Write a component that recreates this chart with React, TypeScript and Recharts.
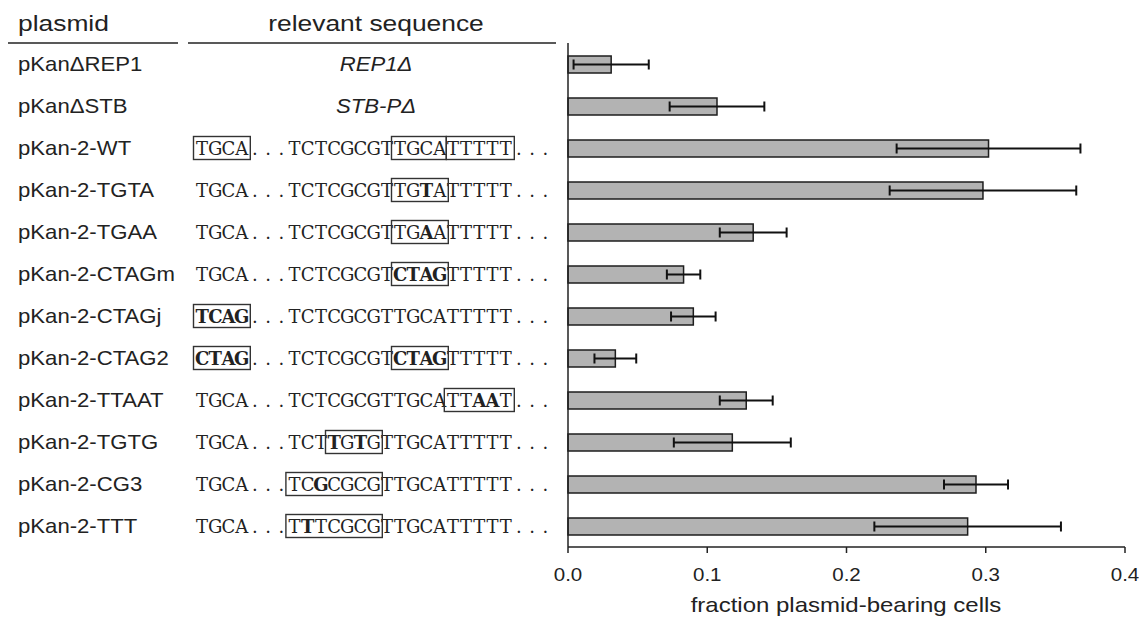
import React from 'react';
import { BarChart, Bar, XAxis, YAxis, ErrorBar } from 'recharts';

const plasmids = [
  'pKanΔREP1',
  'pKanΔSTB',
  'pKan-2-WT',
  'pKan-2-TGTA',
  'pKan-2-TGAA',
  'pKan-2-CTAGm',
  'pKan-2-CTAGj',
  'pKan-2-CTAG2',
  'pKan-2-TTAAT',
  'pKan-2-TGTG',
  'pKan-2-CG3',
  'pKan-2-TTT',
];

// [ ] = boxed, * * = bold
const sequences = [
  'REP1Δ',
  'STB-PΔ',
  '[TGCA]...TCTCGCGT[TGCA][TTTTT]...',
  'TGCA...TCTCGCGT[TG*T*A]TTTTT...',
  'TGCA...TCTCGCGT[TG*A*A]TTTTT...',
  'TGCA...TCTCGCGT[*CTAG*]TTTTT...',
  '[*TCAG*]...TCTCGCGTTGCATTTTT...',
  '[*CTAG*]...TCTCGCGT[*CTAG*]TTTTT...',
  'TGCA...TCTCGCGTTGCA[TT*AA*T]...',
  'TGCA...TCT[*T*G*T*G]TTGCATTTTT...',
  'TGCA...[TC*G*CGCG]TTGCATTTTT...',
  'TGCA...[T*T*TCGCG]TTGCATTTTT...',
];

const fractions = [0.031, 0.107, 0.302, 0.298, 0.133, 0.083, 0.09, 0.034, 0.128, 0.118, 0.293, 0.287];
const errors = [0.027, 0.034, 0.066, 0.067, 0.024, 0.012, 0.016, 0.015, 0.019, 0.042, 0.023, 0.067];
const xTicks = [0, 0.1, 0.2, 0.3, 0.4];

const data = plasmids.map((name, i) => ({
  name,
  seq: sequences[i],
  fraction: fractions[i],
  err: errors[i],
}));

const SANS = "'Liberation Sans', Arial, sans-serif";
const SERIF = "'DejaVu Serif', 'Liberation Serif', serif";
const SX = 1.2;
const SEQ_X = 195.5;
const CW = 13.2;

function parseSeq(s: string) {
  const chars: { c: string; bold: boolean }[] = [];
  const boxes: [number, number][] = [];
  let bold = false;
  let start = -1;
  for (const ch of s) {
    if (ch === '*') bold = !bold;
    else if (ch === '[') start = chars.length;
    else if (ch === ']') boxes.push([start, chars.length]);
    else chars.push({ c: ch, bold });
  }
  return { chars, boxes };
}

const RowTick = (props: any) => {
  const { y, payload } = props;
  const idx = plasmids.indexOf(payload.value);
  const seq = sequences[idx];
  const italic = seq.includes('Δ');
  let seqNode;
  if (italic) {
    seqNode = (
      <text transform={`translate(376,${y + 7}) scale(1.08,1)`} textAnchor="middle"
        fontFamily={SANS} fontSize={20.5} fontStyle="italic" fill="#222">{seq}</text>
    );
  } else {
    const { chars, boxes } = parseSeq(seq);
    seqNode = (
      <g>
        {chars.map((ch, i) => (
          <text key={i} x={SEQ_X + (i + 0.5) * CW} y={y + 6.5} textAnchor="middle"
            fontFamily={SERIF} fontSize={18} fontWeight={ch.bold ? 'bold' : 'normal'}
            fill="#222">{ch.c}</text>
        ))}
        {boxes.map(([a, b], k) => {
          // adjacent boxes share one edge
          const padL = boxes.some(([, e]) => e === a) ? 0 : 2;
          const padR = boxes.some(([s]) => s === b) ? 0 : 2;
          return (
            <rect key={k} x={SEQ_X + a * CW - padL} y={y - 11.5}
              width={(b - a) * CW + padL + padR} height={23}
              fill="none" stroke="#333" strokeWidth={1.4} />
          );
        })}
      </g>
    );
  }
  return (
    <g>
      <text transform={`translate(18,${y + 7}) scale(1.08,1)`} fontFamily={SANS} fontSize={20.5} fill="#222">
        {payload.value}
      </text>
      {seqNode}
    </g>
  );
};

const XTick = (props: any) => {
  const { x, y, payload } = props;
  return (
    <text transform={`translate(${x},${y + 26}) scale(1.08,1)`} textAnchor="middle"
      fontFamily={SANS} fontSize={19} fill="#222">
      {Number(payload.value).toFixed(1)}
    </text>
  );
};

export default function App() {
  return (
    <div style={{ position: 'absolute', left: 0, top: 0, width: 1139, height: 617, background: '#fff' }}>
      <BarChart width={1139} height={617} data={data} layout="vertical"
        margin={{ top: 43, right: 14, bottom: 0, left: 0 }} barCategoryGap={12}>
        <XAxis type="number" domain={[0, 0.4]} ticks={xTicks} height={70} tick={<XTick />}
          tickSize={6} tickLine={{ stroke: '#222', strokeWidth: 1.5 }}
          axisLine={{ stroke: '#222', strokeWidth: 1.5 }} />
        <XAxis xAxisId="top" orientation="top" type="number" domain={[0, 0.4]} height={0}
          tick={false} tickLine={false} axisLine={{ stroke: '#222', strokeWidth: 1.5 }} />
        <YAxis type="category" dataKey="name" width={568} tick={<RowTick />} tickLine={false}
          axisLine={{ stroke: '#222', strokeWidth: 1.5 }} interval={0} />
        <YAxis yAxisId="right" orientation="right" type="category" dataKey="name" width={0}
          tick={false} tickLine={false} axisLine={{ stroke: '#222', strokeWidth: 1.5 }} />
        <Bar dataKey="fraction" fill="#b3b3b3" stroke="#1e1e1e" strokeWidth={1.5} barSize={17}
          isAnimationActive={false}>
          <ErrorBar dataKey="err" direction="x" width={5} stroke="#111" strokeWidth={2} />
        </Bar>
      </BarChart>
      <svg width={1139} height={617} style={{ position: 'absolute', left: 0, top: 0, pointerEvents: 'none' }}>
        <text transform={`translate(18,31) scale(${SX},1)`} fontFamily={SANS} fontSize={22} fill="#222">plasmid</text>
        <text transform={`translate(376,31) scale(${SX},1)`} textAnchor="middle" fontFamily={SANS} fontSize={22} fill="#222">
          relevant sequence
        </text>
        <line x1={8} x2={178} y1={43} y2={43} stroke="#222" strokeWidth={1.5} />
        <line x1={188} x2={556} y1={43} y2={43} stroke="#222" strokeWidth={1.5} />
        <text transform={`translate(846,612) scale(${SX},1)`} textAnchor="middle" fontFamily={SANS} fontSize={20} fill="#222">
          fraction plasmid-bearing cells
        </text>
      </svg>
    </div>
  );
}
